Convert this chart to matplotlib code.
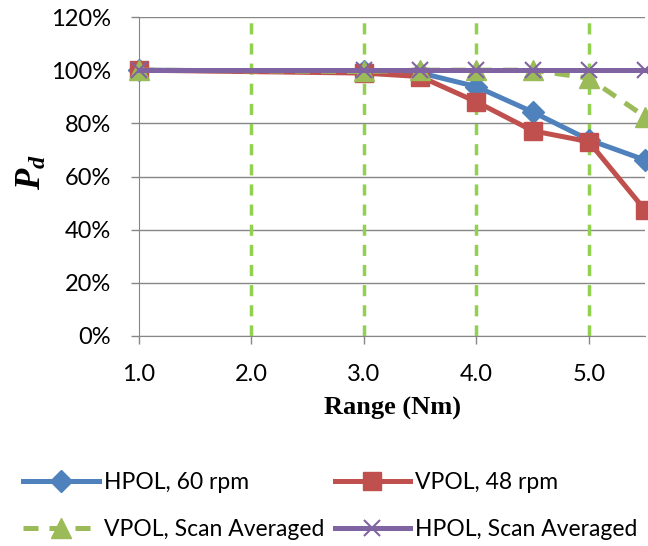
import matplotlib
matplotlib.use("Agg")
import matplotlib.pyplot as plt
from matplotlib.ticker import PercentFormatter, FixedLocator

range_nm = [1.0, 3.0, 3.5, 4.0, 4.5, 5.0, 5.5]
hpol_60 = [100, 99.5, 99, 93.8, 84.3, 73.8, 66.2]
vpol_48 = [100, 98.9, 97.6, 88.1, 77.2, 73.1, 47.4]
vpol_scan = [100, 99.5, 100, 100, 100, 97, 82.5]
hpol_scan = [100, 100, 100, 100, 100, 100, 100]
x_ticks = [1.0, 2.0, 3.0, 4.0, 5.0]
y_ticks = [0, 20, 40, 60, 80, 100, 120]

plt.rcParams["mathtext.fontset"] = "custom"
plt.rcParams["mathtext.it"] = "Liberation Serif:italic:bold"
plt.rcParams["mathtext.rm"] = "Liberation Serif:bold"

W, H = 648, 546
fig = plt.figure(figsize=(W/100, H/100), dpi=100)
ax = fig.add_axes([139/W, 1-336/H, (645-139)/W, (336-17)/H])

tick_font = "Lato"
lw = 3.6
l1, = ax.plot(range_nm, hpol_60, color="#4F81BD", lw=lw, marker="D", ms=11,
              label="HPOL, 60 rpm", clip_on=False, zorder=4)
l2, = ax.plot(range_nm, vpol_48, color="#C0504D", lw=lw, marker="s", ms=13.5,
              label="VPOL, 48 rpm", clip_on=False, zorder=4)
l3, = ax.plot(range_nm, vpol_scan, color="#9BBB59", lw=lw, marker="^", ms=14,
              ls=(0, (3.0, 2.2)), label="VPOL, Scan Averaged", clip_on=False, zorder=5)
l4, = ax.plot(range_nm, hpol_scan, color="#8064A2", lw=lw, marker="x", ms=12, mew=1.5,
              label="HPOL, Scan Averaged", clip_on=False, zorder=6)

ax.set_xlim(1.0, 5.5)
ax.set_ylim(0, 120)
ax.xaxis.set_major_locator(FixedLocator(x_ticks))
ax.yaxis.set_major_locator(FixedLocator(y_ticks))
ax.yaxis.set_major_formatter(PercentFormatter(decimals=0))
ax.set_xticklabels([f"{v:.1f}" for v in x_ticks])

for s in ["top", "right"]:
    ax.spines[s].set_visible(False)
ax.spines["left"].set_color("#868686")
ax.spines["bottom"].set_color("#868686")
ax.tick_params(axis="both", colors="#868686", length=6, width=1, labelcolor="black",
               labelsize=17)
for lab in ax.get_xticklabels() + ax.get_yticklabels():
    lab.set_fontfamily(tick_font)
ax.tick_params(axis="x", pad=14)
ax.tick_params(axis="y", pad=14)

ax.set_axisbelow(True)
ax.yaxis.grid(True, color="#868686", lw=1)
for xv in x_ticks[1:]:
    ax.axvline(xv, color="#92D050", lw=2.5, ls=(0, (3.2, 2.6)), zorder=1)

ax.set_xlabel("Range (Nm)", fontfamily="Liberation Serif", fontweight="bold",
              fontsize=19, labelpad=9)
fig.text(31/W, 1-172/H, r"$P_d$", fontsize=25, rotation=90, ha="center", va="center")

leg = fig.legend([l1, l3, l2, l4],
                 ["HPOL, 60 rpm", "VPOL, Scan Averaged", "VPOL, 48 rpm", "HPOL, Scan Averaged"],
                 ncol=2, loc="lower left", bbox_to_anchor=(14/W, -0.006), frameon=False,
                 prop={"family": tick_font, "size": 16.5}, handlelength=3.3,
                 handletextpad=0.22, columnspacing=0.45, labelspacing=1.15, borderaxespad=0.0)

fig.savefig("out.png", dpi=100)
